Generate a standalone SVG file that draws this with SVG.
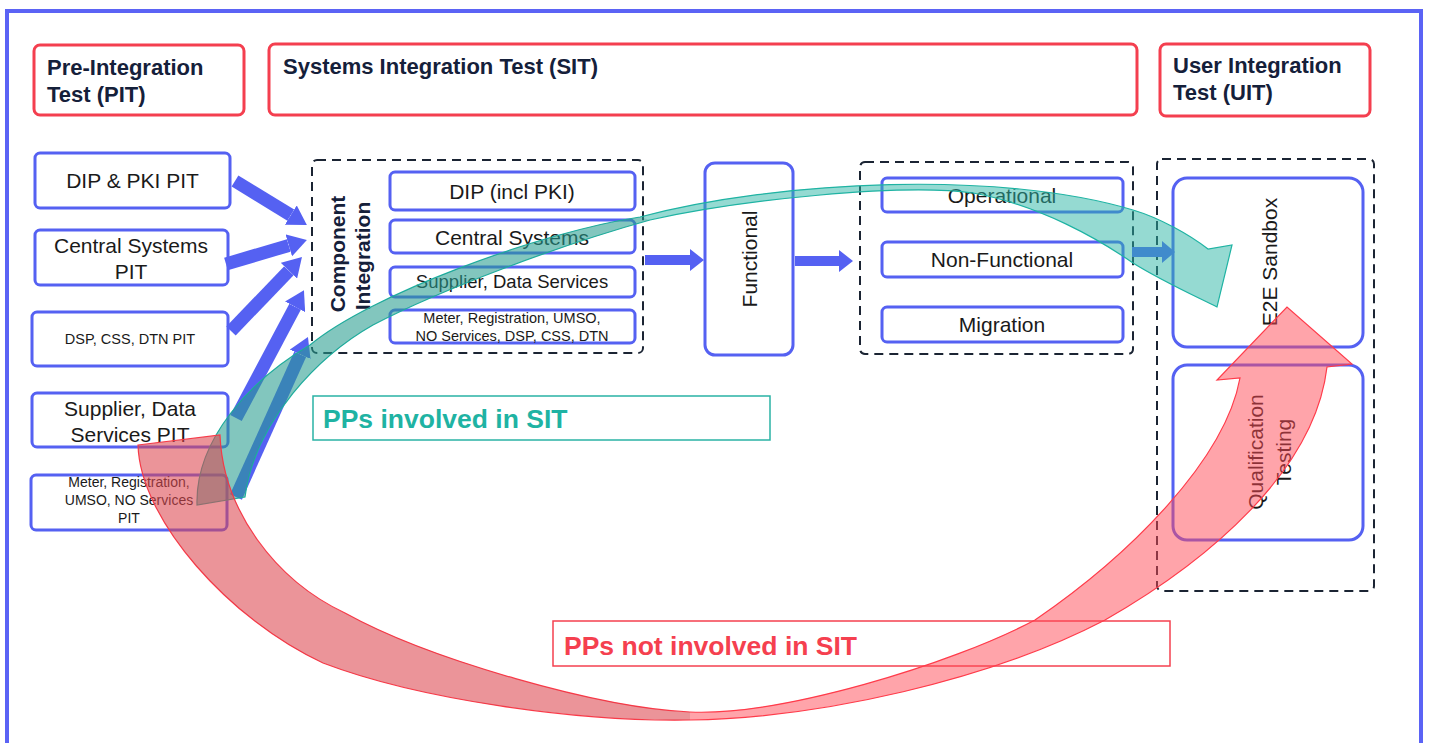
<svg xmlns="http://www.w3.org/2000/svg" width="1429" height="743" viewBox="0 0 1429 743">
<style>
.hdr{fill:#fff;stroke:#f43f4f;stroke-width:3}
.hdrt{font-family:"Liberation Sans",Arial,sans-serif;font-weight:bold;font-size:22px;fill:#15203a}
.box{fill:#fff;stroke:#5561f2;stroke-width:3}
.t{font-family:"Liberation Sans",Arial,sans-serif;fill:#1a1a1a;text-anchor:middle}
.dash{fill:none;stroke:#1b2433;stroke-width:2;stroke-dasharray:9 6}
.barr{stroke:#5561f2;stroke-width:13;fill:none;marker-end:url(#bh)}
.blk{fill:#5561f2}
.ct{font-family:"Liberation Sans",Arial,sans-serif;font-weight:bold;font-size:21px;fill:#15203a;text-anchor:middle}
</style>
<defs>
<marker id="bh" viewBox="0 0 10 10" refX="0" refY="5" markerWidth="1.45" markerHeight="1.75" orient="auto" preserveAspectRatio="none">
<path d="M0,0 L10,5 L0,10 z" fill="#5561f2"/>
</marker>
</defs>
<rect x="7" y="11" width="1414" height="800" fill="#fff" stroke="#5b63f5" stroke-width="4"/>

<g id="hdr-pit"><rect class="hdr" x="34" y="45" width="210" height="70" rx="6"/>
<text class="hdrt" x="47" y="75">Pre-Integration</text><text class="hdrt" x="47" y="102">Test (PIT)</text></g>
<g id="hdr-sit"><rect class="hdr" x="269" y="44" width="868" height="71" rx="6"/>
<text class="hdrt" x="283" y="74">Systems Integration Test (SIT)</text></g>
<g id="hdr-uit"><rect class="hdr" x="1160" y="44" width="210" height="72" rx="6"/>
<text class="hdrt" x="1173" y="73">User Integration</text><text class="hdrt" x="1173" y="100">Test (UIT)</text></g>

<g id="pit-dip"><rect class="box" x="35" y="153" width="195" height="55" rx="5"/><text class="t" x="132.5" y="188" font-size="21">DIP &amp; PKI PIT</text></g>
<g id="pit-central"><rect class="box" x="35" y="230" width="193" height="55" rx="5"/><text class="t" x="131" y="253" font-size="21">Central Systems</text><text class="t" x="131" y="279" font-size="21">PIT</text></g>
<g id="pit-dsp"><rect class="box" x="32" y="312" width="196" height="54" rx="5"/><text class="t" x="130" y="344" font-size="14.5">DSP, CSS, DTN PIT</text></g>
<g id="pit-supplier"><rect class="box" x="32" y="393" width="196" height="54" rx="5"/><text class="t" x="130" y="416" font-size="21">Supplier, Data</text><text class="t" x="130" y="442" font-size="21">Services PIT</text></g>
<g id="pit-meter"><rect class="box" x="31" y="475" width="196" height="55" rx="5"/><text class="t" x="129" y="487" font-size="14">Meter, Registration,</text><text class="t" x="129" y="505" font-size="14">UMSO, NO Services</text><text class="t" x="129" y="523" font-size="14">PIT</text></g>

<g id="component-integration"><rect class="dash" x="312" y="160" width="331" height="193" rx="5"/>
<text class="ct" transform="translate(345,254) rotate(-90)">Component</text>
<text class="ct" transform="translate(370,256) rotate(-90)">Integration</text></g>
<g id="ci-dip"><rect class="box" x="390" y="172" width="245" height="38" rx="5"/><text class="t" x="512" y="199" font-size="21">DIP (incl PKI)</text></g>
<g id="ci-central"><rect class="box" x="390" y="220" width="245" height="33" rx="5"/><text class="t" x="512" y="245" font-size="21">Central Systems</text></g>
<g id="ci-supplier"><rect class="box" x="390" y="267" width="245" height="30" rx="5"/><text class="t" x="512" y="288" font-size="18.5">Supplier, Data Services</text></g>
<g id="ci-meter"><rect class="box" x="390" y="310" width="245" height="33" rx="5"/><text class="t" x="512" y="323" font-size="14.5">Meter, Registration, UMSO,</text><text class="t" x="512" y="341" font-size="14.5">NO Services, DSP, CSS, DTN</text></g>

<g id="functional"><rect class="box" x="705" y="163" width="88" height="192" rx="10"/><text class="t" font-size="21" transform="translate(757,259) rotate(-90)">Functional</text></g>

<g id="sit-group"><rect class="dash" x="860" y="162" width="273" height="192" rx="5"/></g>
<g id="operational"><rect class="box" x="882" y="178" width="241" height="34" rx="5"/><text class="t" x="1002" y="203" font-size="21">Operational</text></g>
<g id="non-functional"><rect class="box" x="882" y="242" width="241" height="35" rx="5"/><text class="t" x="1002" y="267" font-size="21">Non-Functional</text></g>
<g id="migration"><rect class="box" x="882" y="307" width="241" height="35" rx="5"/><text class="t" x="1002" y="332" font-size="21">Migration</text></g>

<g id="uit-group"><rect class="dash" x="1157" y="159" width="217" height="432" rx="5"/></g>
<g id="e2e"><rect class="box" x="1173" y="178" width="190" height="169" rx="14"/><text class="t" font-size="21" transform="translate(1277,262) rotate(-90)">E2E Sandbox</text></g>
<g id="qualification"><rect class="box" x="1173" y="365" width="190" height="175" rx="14"/><text class="t" font-size="21" transform="translate(1263,452) rotate(-90)">Qualification</text><text class="t" font-size="21" transform="translate(1291,452) rotate(-90)">Testing</text></g>

<g id="label-involved"><rect x="313" y="396" width="457" height="44" fill="none" stroke="#2ab3a5" stroke-width="1.5"/><text x="323" y="428" font-family="Liberation Sans,Arial,sans-serif" font-weight="bold" font-size="26.5" fill="#1fb3a3">PPs involved in SIT</text></g>
<g id="label-not-involved"><rect x="553" y="621" width="617" height="45" fill="none" stroke="#f5404f" stroke-width="1.5"/><text x="564" y="655" font-family="Liberation Sans,Arial,sans-serif" font-weight="bold" font-size="26.5" fill="#f5404f">PPs not involved in SIT</text></g>

<g id="connectors">
<line class="barr" x1="235" y1="181" x2="290.8" y2="215.1"/>
<line class="barr" x1="226" y1="264" x2="288.8" y2="245.4"/>
<line class="barr" x1="231" y1="331" x2="288.9" y2="270.7"/>
<line class="barr" x1="236" y1="418" x2="295.1" y2="306.8"/>
<line class="barr" x1="236" y1="497" x2="300.2" y2="354.3"/>
<polygon class="blk" points="645,255 690,255 690,249 704,260 690,271 690,265 645,265"/>
<polygon class="blk" points="795,256 839,256 839,250 853,261 839,272 839,266 795,266"/>
<polygon class="blk" points="1132,247 1162,247 1162,241 1175,252 1162,263 1162,257 1132,257"/>
</g>

<g id="flows">
<path d="M197,505 C195,440 250,380 310,345 C370,295 540,232 640,217 C780,180 1000,170 1133,210 C1160,218 1190,235 1208,249 L1232,245 L1217,307 C1195,296 1160,280 1133,263 C1100,240 1040,205 973,193 C900,183 740,200 650,220 C560,245 440,290 373,325 C320,355 255,420 245,497 Z" fill="#2bb5a5" fill-opacity="0.5" stroke="#1fb3a3" stroke-width="1.2"/>
<path d="M197,505 C195,440 250,380 310,345 C370,295 540,232 640,217 L650,220 C560,245 440,290 373,325 C320,355 255,420 245,497 Z" fill="#1a5a50" fill-opacity="0.15"/>
<path d="M138,445 L220,435 C223,510 275,580 345,613 C430,660 600,708 690,712 C780,716 950,665 1035,620 C1130,555 1225,460 1240,378 L1217,380 L1287,307 L1352,364 L1327,367 C1315,470 1210,560 1105,620 C990,680 820,718 690,720 C580,722 420,700 323,663 C230,620 140,520 138,445 Z" fill="#ff4a55" fill-opacity="0.5" stroke="#ff3b4a" stroke-width="1.2"/>
<path d="M138,445 L220,435 C223,510 275,580 345,613 C430,660 600,708 690,712 L690,720 C580,722 420,700 323,663 C230,620 140,520 138,445 Z" fill="#7a3a3a" fill-opacity="0.15"/>
</g>
</svg>
